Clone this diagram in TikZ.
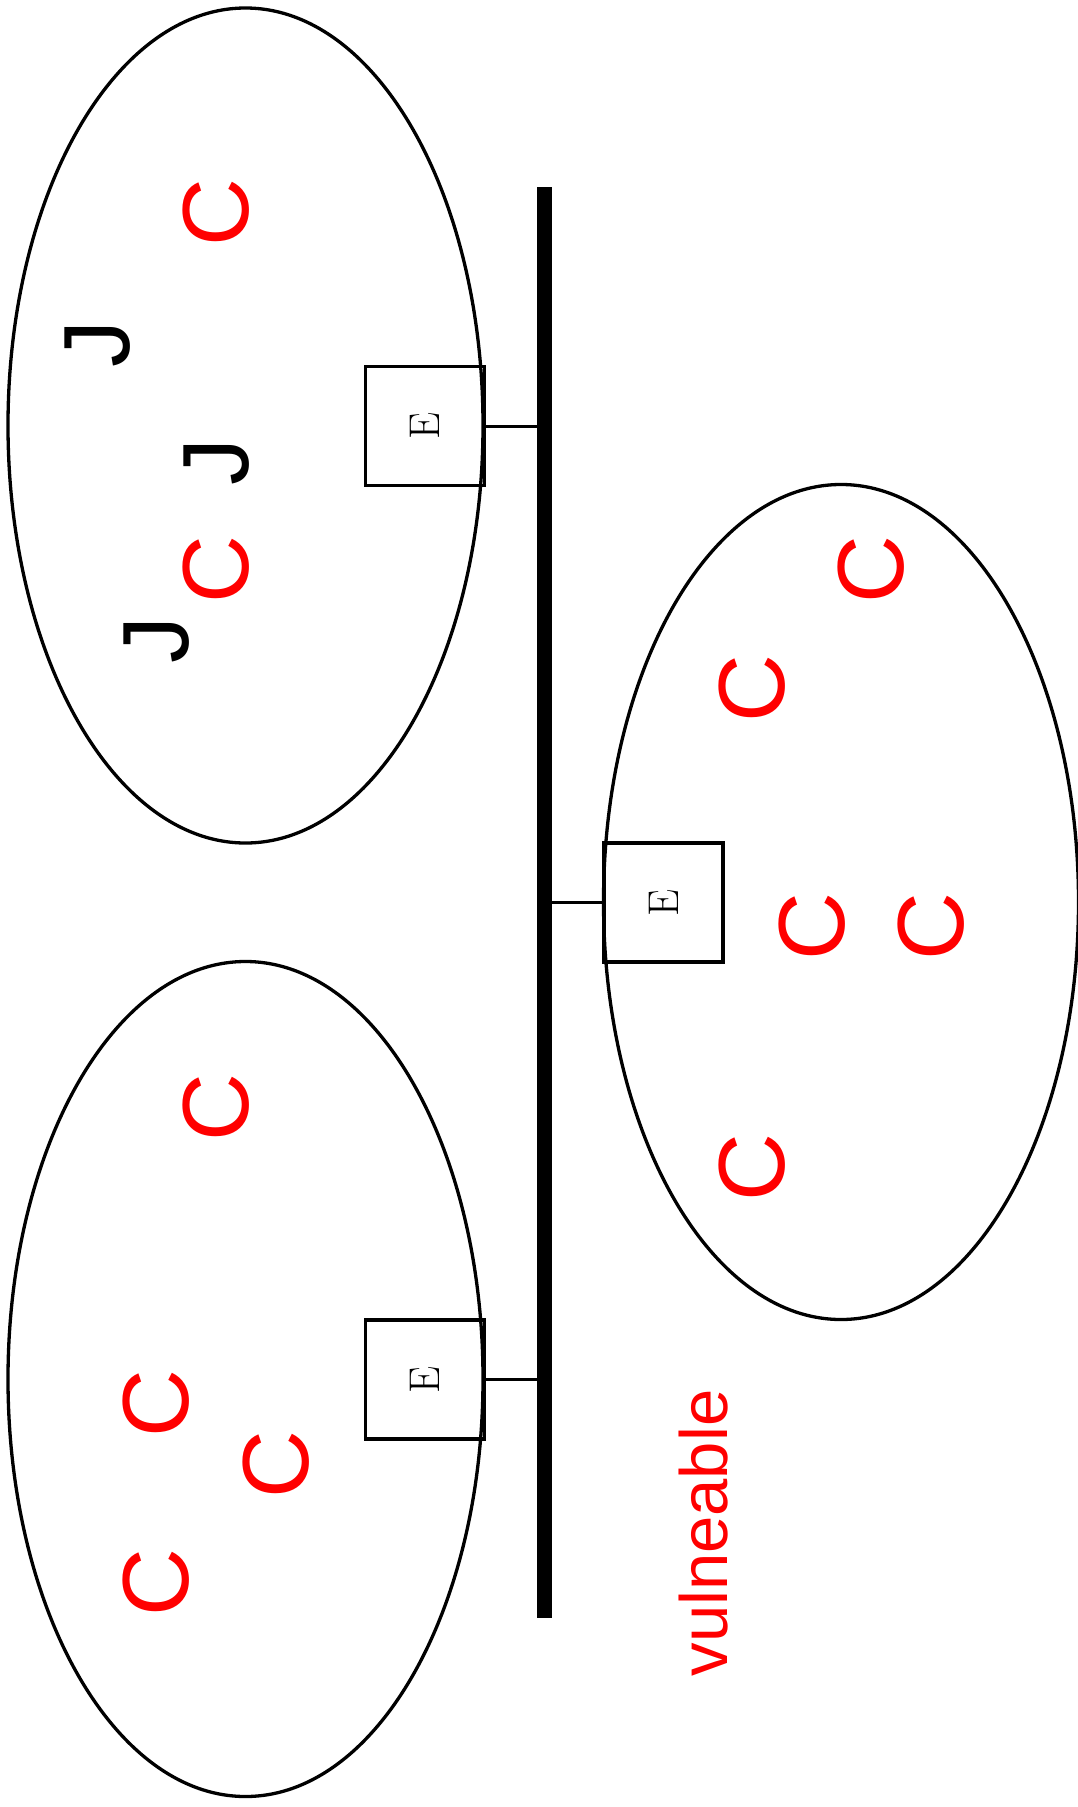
\documentclass[tikz,border=0pt]{standalone}
\usepackage{fontspec}
\usepackage{graphicx}
\newfontfamily\helv{Liberation Sans}
\usetikzlibrary{shapes.geometric}

\begin{document}
\begin{tikzpicture}[x=1pt,y=-1pt,
  lan/.style={draw, ellipse, line width=3.3pt, minimum width=475pt, minimum height=835pt, inner sep=0pt},
  eth/.style={draw, rectangle, line width=3.3pt, minimum size=119pt, inner sep=0pt, font=\fontsize{43}{43}\selectfont},
  host/.style={rotate=90, anchor=base, inner sep=0pt, font=\helv\fontsize{94}{94}\selectfont},
  bad/.style={host, text=red},
  link/.style={line width=3pt},
  bus/.style={line width=15pt}]
\useasboundingbox (0,0) rectangle (1078,1807);

% the three segments
\node[lan] (l1) at (245.5,425.5) {};
\node[lan] (l2) at (245.5,1379) {};
\node[lan] (l3) at (841,902) {};

% hosts of the first segment
\node[bad] (c1) at (248,213) {C};
\node[host] (j1) at (129,344) {J};
\node[host] (j2) at (248,462) {J};
\node[bad] (c2) at (248,570) {C};
\node[host] (j3) at (188,640) {J};

% hosts of the second segment
\node[bad] (c3) at (248,1108) {C};
\node[bad] (c4) at (188,1404) {C};
\node[bad] (c5) at (308,1465) {C};
\node[bad] (c6) at (188,1583) {C};

% hosts of the third segment
\node[bad] (c7) at (903,570) {C};
\node[bad] (c8) at (784,689) {C};
\node[bad] (c9) at (844,927) {C};
\node[bad] (c10) at (963,927) {C};
\node[bad] (c11) at (784,1168) {C};

% gateways
\node[eth] (e1) at (425,426) {\rotatebox{90}{E}};
\node[eth] (e2) at (425,1379.5) {\rotatebox{90}{E}};
\node[eth] (e3) at (663.5,902.5) {\rotatebox{90}{E}};

\node[bad, font=\helv\fontsize{67}{67}\selectfont] (v) at (727,1533) {vulneable};

% backbone
\coordinate (bt) at (544,187);
\coordinate (bb) at (544,1618);

\draw[link] (e1.east) -- (e1.east -| bt);
\draw[link] (e2.east) -- (e2.east -| bt);
\draw[link] (e3.west) -- (e3.west -| bt);

\draw[bus] (bt) -- (bb);

\end{tikzpicture}
\end{document}
